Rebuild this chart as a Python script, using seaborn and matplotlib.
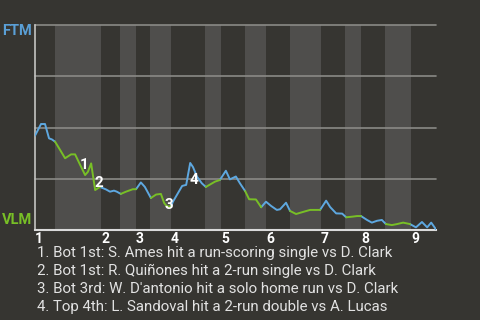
import numpy as np
import pandas as pd
import matplotlib
matplotlib.use("Agg")
import matplotlib.pyplot as plt
import seaborn as sns

# ---- data ----
# game progress (0-100) and FTM win probability (%)
progress = [0, 1.5, 2.5, 3.5, 4.2, 5.0, 6.0, 7.5, 9.0, 10.0, 11.2, 12.5, 13.2, 14.0, 15.0,
            16.2, 17.7, 18.7, 19.7, 20.4, 21.4, 22.7, 24.4, 25.2, 26.4, 27.4, 28.9, 30.2,
            31.4, 32.2, 32.9, 33.9, 34.4, 36.7, 37.7, 38.7, 39.4, 40.4, 41.6, 42.6, 44.9,
            46.1, 47.6, 48.6, 50.1, 51.1, 52.4, 53.4, 55.1, 56.4, 57.6, 58.9, 60.3, 61.1,
            62.6, 63.6, 65.1, 66.3, 68.6, 71.1, 72.6, 73.6, 75.1, 76.6, 77.6, 79.1, 80.3,
            81.3, 82.8, 84.0, 85.3, 86.5, 87.5, 89.0, 90.3, 91.8, 93.5, 95.0, 96.5, 97.8,
            98.8, 100]
ftm_wp = [46.0, 51.7, 51.7, 44.7, 44.2, 43.1, 39.9, 35.0, 36.9, 36.9, 32.0, 26.8, 28.4, 32.5,
          19.5, 21.0, 19.8, 18.7, 19.2, 18.7, 17.6, 18.7, 19.9, 19.9, 23.2, 21.0, 15.6, 17.3,
          17.6, 13.2, 11.5, 11.5, 13.8, 21.5, 22.0, 32.7, 30.7, 26.0, 22.8, 21.0, 23.6, 24.4,
          28.9, 24.7, 26.1, 22.8, 19.0, 15.0, 14.9, 11.1, 13.8, 11.7, 9.8, 10.1, 13.3, 9.3,
          7.8, 8.5, 9.8, 9.8, 14.3, 11.2, 8.1, 8.0, 6.2, 6.5, 6.8, 6.8, 4.9, 3.6, 4.5, 4.9,
          2.9, 2.4, 2.9, 3.6, 2.9, 1.3, 3.9, 1.3, 3.6, 0.3]
half_inning_edges = [0, 5.0, 16.5, 21.2, 25.2, 28.7, 33.9, 42.4, 46.4, 52.4, 56.4, 63.6,
                     71.3, 77.3, 81.3, 87.3, 93.8, 100]
band_edges = [0, 5.0, 16.5, 21.2, 25.2, 28.7, 33.9, 42.4, 46.4, 52.4, 57.6, 63.6,
              71.3, 77.3, 81.3, 87.3, 93.8, 100]
inning_labels = ["1", "2", "3", "4", "5", "6", "7", "8", "9"]
teams = ["FTM", "VLM"]
event_marks = ["1", "2", "3", "4"]
event_x = [12.2, 16.0, 33.4, 39.7]
event_y = [31.7, 22.9, 12.2, 24.4]
event_notes = [
    "1. Bot 1st: S. Ames hit a run-scoring single vs D. Clark",
    "2. Bot 1st: R. Quiñones hit a 2-run single vs D. Clark",
    "3. Bot 3rd: W. D'antonio hit a solo home run vs D. Clark",
    "4. Top 4th: L. Sandoval hit a 2-run double vs A. Lucas",
]

# ---- styling ----
BG = "#363531"
BAND = "#4f4e4c"
BLUE = "#5ea8e0"
GREEN = "#78bf26"
GRID = "#8a8a86"
TXT = "#e2e2e2"

sns.set_theme(style="dark", rc={"axes.facecolor": BG, "figure.facecolor": BG})
plt.rcParams["font.family"] = ["Roboto", "DejaVu Sans"]

# segment colouring by batting team (top half = FTM, bottom half = VLM)
edges = np.array(half_inning_edges)
x = np.array(progress)
y = np.array(ftm_wp)
seg_team = []
for i in range(len(x) - 1):
    mid = (x[i] + x[i + 1]) / 2
    idx = np.searchsorted(edges, mid, side="right") - 1
    seg_team.append(teams[idx % 2])

rows = []
run = 0
start = 0
for i in range(1, len(seg_team) + 1):
    if i == len(seg_team) or seg_team[i] != seg_team[start]:
        for j in range(start, i + 1):
            rows.append({"x": x[j], "y": y[j], "team": seg_team[start], "run": run})
        run += 1
        start = i
df = pd.DataFrame(rows)

fig = plt.figure(figsize=(4.8, 3.2), dpi=100, facecolor=BG)
ax = fig.add_axes([35 / 480, 90 / 320, 401 / 480, 205 / 320])
ax.set_facecolor(BG)

bands = np.array(band_edges)
for k in range(len(bands) - 1):
    if k % 2 == 1:
        ax.axvspan(bands[k], bands[k + 1], color=BAND, lw=0, zorder=0)

for g in [25, 50, 75, 100]:
    ax.axhline(g, color=GRID, lw=1.2, zorder=1, clip_on=False)

sns.lineplot(data=df, x="x", y="y", hue="team", units="run", estimator=None,
             palette={"FTM": BLUE, "VLM": GREEN}, legend=False, ax=ax,
             lw=1.4, sort=False, zorder=3)

for m, ex, ey in zip(event_marks, event_x, event_y):
    ax.text(ex, ey, m, color="white", fontsize=11, fontweight="bold",
            ha="center", va="center", zorder=4)

ax.set_xlim(0, 100)
ax.set_ylim(0, 100)
ax.set_xlabel("")
ax.set_ylabel("")
ax.set_yticks([])
inning_starts = [bands[k] for k in range(0, len(bands) - 1, 2)]
ax.set_xticks(inning_starts)
ax.set_xticklabels(inning_labels, color="white", fontsize=10, fontweight="bold", ha="left")
ax.tick_params(axis="x", length=0, pad=1.5)

for s in ["top", "right"]:
    ax.spines[s].set_visible(False)
ax.spines["left"].set_color("#c4c4c2")
ax.spines["left"].set_linewidth(1.2)
ax.spines["bottom"].set_color("#dadada")
ax.spines["bottom"].set_linewidth(1.5)

fig.text(2 / 480, 1 - 31 / 320, teams[0], color="#5a9fd6", fontsize=10.5,
         fontweight="bold", ha="left", va="center")
fig.text(2 / 480, 1 - 219.5 / 320, teams[1], color=GREEN, fontsize=10.5,
         fontweight="bold", ha="left", va="center")

for i, note in enumerate(event_notes):
    fig.text(37 / 480, 1 - (253.3 + 17.8 * i) / 320, note, color=TXT,
             fontsize=10.8, ha="left", va="center")

fig.savefig("out.png", dpi=100, facecolor=BG)
